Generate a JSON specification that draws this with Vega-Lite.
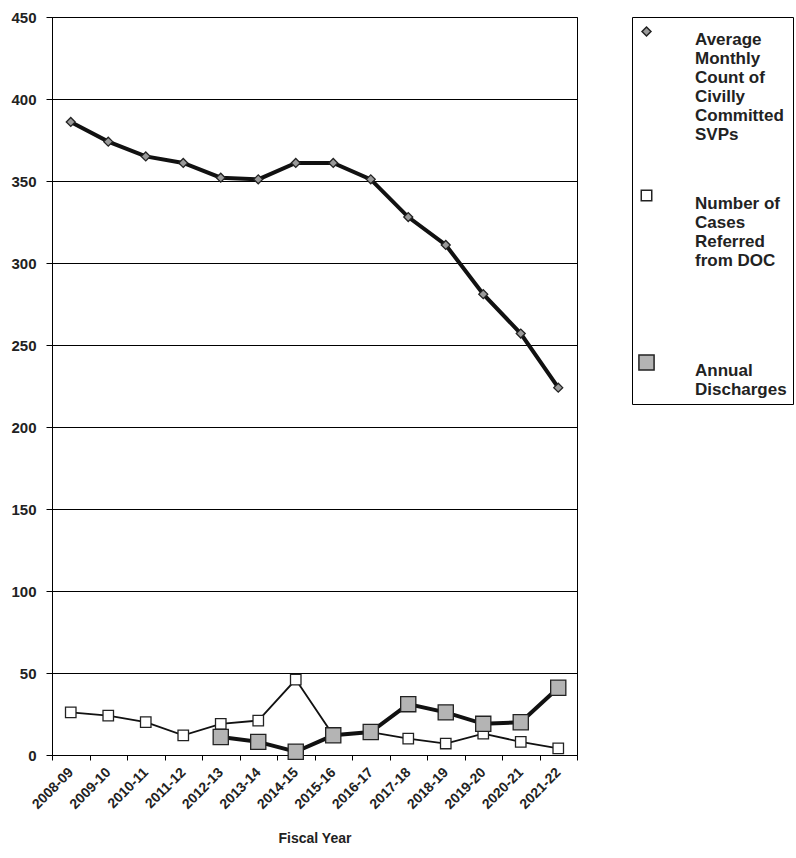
{
  "$schema": "https://vega.github.io/schema/vega-lite/v6.json",
  "autosize": "none",
  "width": 525,
  "height": 738,
  "padding": {"left": 52, "top": 17, "right": 219, "bottom": 103},
  "background": "white",
  "config": {
    "view": {"stroke": "black", "strokeWidth": 1},
    "font": "Liberation Sans"
  },
  "data": {
    "values": [
      {"year": "2008-09", "series": "Average Monthly Count of Civilly Committed SVPs", "value": 386},
      {"year": "2009-10", "series": "Average Monthly Count of Civilly Committed SVPs", "value": 374},
      {"year": "2010-11", "series": "Average Monthly Count of Civilly Committed SVPs", "value": 365},
      {"year": "2011-12", "series": "Average Monthly Count of Civilly Committed SVPs", "value": 361},
      {"year": "2012-13", "series": "Average Monthly Count of Civilly Committed SVPs", "value": 352},
      {"year": "2013-14", "series": "Average Monthly Count of Civilly Committed SVPs", "value": 351},
      {"year": "2014-15", "series": "Average Monthly Count of Civilly Committed SVPs", "value": 361},
      {"year": "2015-16", "series": "Average Monthly Count of Civilly Committed SVPs", "value": 361},
      {"year": "2016-17", "series": "Average Monthly Count of Civilly Committed SVPs", "value": 351},
      {"year": "2017-18", "series": "Average Monthly Count of Civilly Committed SVPs", "value": 328},
      {"year": "2018-19", "series": "Average Monthly Count of Civilly Committed SVPs", "value": 311},
      {"year": "2019-20", "series": "Average Monthly Count of Civilly Committed SVPs", "value": 281},
      {"year": "2020-21", "series": "Average Monthly Count of Civilly Committed SVPs", "value": 257},
      {"year": "2021-22", "series": "Average Monthly Count of Civilly Committed SVPs", "value": 224},
      {"year": "2008-09", "series": "Number of Cases Referred from DOC", "value": 26},
      {"year": "2009-10", "series": "Number of Cases Referred from DOC", "value": 24},
      {"year": "2010-11", "series": "Number of Cases Referred from DOC", "value": 20},
      {"year": "2011-12", "series": "Number of Cases Referred from DOC", "value": 12},
      {"year": "2012-13", "series": "Number of Cases Referred from DOC", "value": 19},
      {"year": "2013-14", "series": "Number of Cases Referred from DOC", "value": 21},
      {"year": "2014-15", "series": "Number of Cases Referred from DOC", "value": 46},
      {"year": "2015-16", "series": "Number of Cases Referred from DOC", "value": 12},
      {"year": "2016-17", "series": "Number of Cases Referred from DOC", "value": 14},
      {"year": "2017-18", "series": "Number of Cases Referred from DOC", "value": 10},
      {"year": "2018-19", "series": "Number of Cases Referred from DOC", "value": 7},
      {"year": "2019-20", "series": "Number of Cases Referred from DOC", "value": 13},
      {"year": "2020-21", "series": "Number of Cases Referred from DOC", "value": 8},
      {"year": "2021-22", "series": "Number of Cases Referred from DOC", "value": 4},
      {"year": "2012-13", "series": "Annual Discharges", "value": 11},
      {"year": "2013-14", "series": "Annual Discharges", "value": 8},
      {"year": "2014-15", "series": "Annual Discharges", "value": 2},
      {"year": "2015-16", "series": "Annual Discharges", "value": 12},
      {"year": "2016-17", "series": "Annual Discharges", "value": 14},
      {"year": "2017-18", "series": "Annual Discharges", "value": 31},
      {"year": "2018-19", "series": "Annual Discharges", "value": 26},
      {"year": "2019-20", "series": "Annual Discharges", "value": 19},
      {"year": "2020-21", "series": "Annual Discharges", "value": 20},
      {"year": "2021-22", "series": "Annual Discharges", "value": 41}
    ]
  },
  "encoding": {
    "x": {
      "field": "year",
      "type": "ordinal",
      "bandPosition": 0.5,
      "scale": {"type": "band", "paddingInner": 0, "paddingOuter": 0},
      "axis": {
        "title": "Fiscal Year",
        "titleFont": "Liberation Sans",
        "titleFontSize": 14,
        "titleFontWeight": "bold",
        "titleColor": "#222",
        "titlePadding": 20,
        "labelAngle": -45,
        "labelAlign": "right",
        "labelBaseline": "middle",
        "labelFont": "Liberation Sans",
        "labelFontSize": 14,
        "labelFontWeight": "bold",
        "labelColor": "#222",
        "labelPadding": 10,
        "tickBand": "extent",
        "tickColor": "black",
        "tickSize": 5,
        "domainColor": "black",
        "grid": false
      }
    },
    "y": {
      "field": "value",
      "type": "quantitative",
      "scale": {"domain": [0, 450], "nice": false},
      "axis": {
        "title": null,
        "values": [0, 50, 100, 150, 200, 250, 300, 350, 400, 450],
        "labelFont": "Liberation Sans",
        "labelFontSize": 15,
        "labelFontWeight": "bold",
        "labelColor": "#222",
        "labelPadding": 10,
        "tickColor": "black",
        "tickSize": 6,
        "domainColor": "black",
        "grid": true,
        "gridColor": "black",
        "gridOpacity": 1,
        "gridWidth": 1
      }
    }
  },
  "layer": [
    {
      "transform": [{"filter": "datum.series != 'Number of Cases Referred from DOC'"}],
      "mark": {"type": "line", "color": "#111", "strokeWidth": 4},
      "encoding": {
        "detail": {"field": "series", "type": "nominal"}
      }
    },
    {
      "transform": [{"filter": "datum.series == 'Number of Cases Referred from DOC'"}],
      "mark": {"type": "line", "color": "#111", "strokeWidth": 1.8},
      "encoding": {
        "detail": {"field": "series", "type": "nominal"}
      }
    },
    {
      "mark": {"type": "point", "filled": true, "stroke": "#222", "strokeWidth": 1.3, "opacity": 1},
      "encoding": {
        "shape": {
          "field": "series",
          "type": "nominal",
          "scale": {
            "domain": ["Average Monthly Count of Civilly Committed SVPs", "Number of Cases Referred from DOC", "Annual Discharges"],
            "range": ["diamond", "square", "square"]
          }
        },
        "size": {
          "field": "series",
          "type": "nominal",
          "scale": {
            "type": "ordinal",
            "domain": ["Average Monthly Count of Civilly Committed SVPs", "Number of Cases Referred from DOC", "Annual Discharges"],
            "range": [80, 110, 230]
          }
        },
        "fill": {
          "field": "series",
          "type": "nominal",
          "scale": {
            "domain": ["Average Monthly Count of Civilly Committed SVPs", "Number of Cases Referred from DOC", "Annual Discharges"],
            "range": ["#9a9a9a", "#ffffff", "#b4b4b4"]
          },
          "legend": {
            "title": null,
            "orient": "right",
            "offset": 55,
            "padding": 6,
            "strokeColor": "black",
            "fillColor": "white",
            "symbolStrokeColor": "black",
            "symbolStrokeWidth": 1.5,
            "symbolOpacity": 1,
            "labelFont": "Liberation Sans",
            "labelFontSize": 17,
            "labelFontWeight": "bold",
            "labelColor": "#222",
            "labelLimit": 300,
            "labelOffset": 40,
            "labelBaseline": "top",
            "rowPadding": 44,
            "labelExpr": "indexof(datum.label, 'Average') == 0 ? ['Average', 'Monthly', 'Count of', 'Civilly', 'Committed', 'SVPs'] : indexof(datum.label, 'Number') == 0 ? ['Number of', 'Cases', 'Referred', 'from DOC', ' ', ' '] : ['Annual', 'Discharges']"
          }
        }
      }
    }
  ]
}
